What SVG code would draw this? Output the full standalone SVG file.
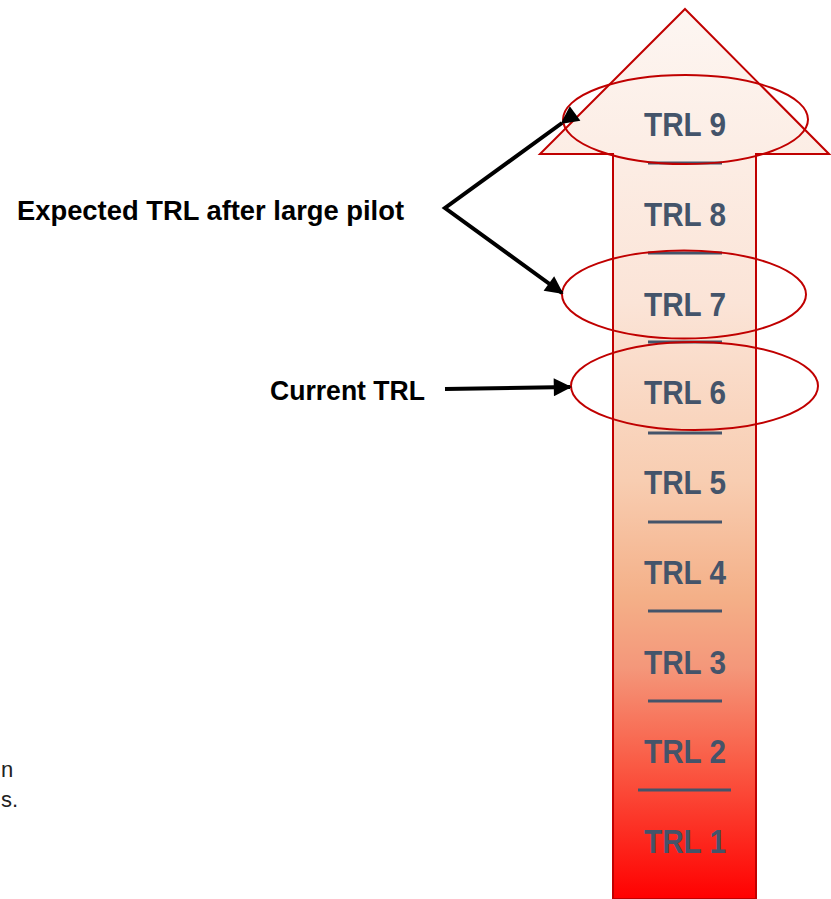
<svg xmlns="http://www.w3.org/2000/svg" width="831" height="899" viewBox="0 0 831 899">
<defs>
<linearGradient id="g" x1="0" y1="9" x2="0" y2="899" gradientUnits="userSpaceOnUse">
<stop offset="0" stop-color="#fdf6f2"/>
<stop offset="0.33" stop-color="#fbe4d7"/>
<stop offset="0.53" stop-color="#f8cdb1"/>
<stop offset="0.66" stop-color="#f4b088"/>
<stop offset="0.74" stop-color="#f4977a"/>
<stop offset="0.85" stop-color="#fa5a44"/>
<stop offset="1" stop-color="#ff0000"/>
</linearGradient>
<marker id="ah" viewBox="0 0 10 10" refX="9" refY="5" markerWidth="5" markerHeight="4.5" markerUnits="strokeWidth" orient="auto">
<path d="M0,0 L10,5 L0,10 z" fill="#000"/>
</marker>
<style>
.trl{font-family:"Liberation Sans",Arial,sans-serif;font-weight:bold;font-size:34px;fill:#44546a;text-anchor:middle}
.lbl{font-family:"Liberation Sans",Arial,sans-serif;font-weight:bold;font-size:27px;fill:#000}
.frag{font-family:"Liberation Sans",Arial,sans-serif;font-size:22px;fill:#222}
.sep{stroke:#44546a;stroke-width:3}
.ell{fill:none;stroke:#c00000;stroke-width:2}
.con{stroke:#000;stroke-width:4;fill:none}
</style>
</defs>
<g id="arrow">
<polygon points="685,9 829,154 756,154 756,899 613,899 613,154 540,154" fill="url(#g)" stroke="#c00000" stroke-width="2"/>
</g>
<g id="levels">
<g id="trl9"><text class="trl" x="685" y="136" textLength="82" lengthAdjust="spacingAndGlyphs">TRL 9</text></g>
<line class="sep" x1="648" y1="163" x2="722" y2="163"/>
<g id="trl8"><text class="trl" x="685" y="226" textLength="82" lengthAdjust="spacingAndGlyphs">TRL 8</text></g>
<line class="sep" x1="648" y1="253" x2="722" y2="253"/>
<g id="trl7"><text class="trl" x="685" y="316" textLength="82" lengthAdjust="spacingAndGlyphs">TRL 7</text></g>
<line class="sep" x1="648" y1="342" x2="722" y2="342"/>
<g id="trl6"><text class="trl" x="685" y="404" textLength="82" lengthAdjust="spacingAndGlyphs">TRL 6</text></g>
<line class="sep" x1="648" y1="433" x2="722" y2="433"/>
<g id="trl5"><text class="trl" x="685" y="494" textLength="82" lengthAdjust="spacingAndGlyphs">TRL 5</text></g>
<line class="sep" x1="648" y1="522" x2="722" y2="522"/>
<g id="trl4"><text class="trl" x="685" y="584" textLength="82" lengthAdjust="spacingAndGlyphs">TRL 4</text></g>
<line class="sep" x1="648" y1="611" x2="722" y2="611"/>
<g id="trl3"><text class="trl" x="685" y="674" textLength="82" lengthAdjust="spacingAndGlyphs">TRL 3</text></g>
<line class="sep" x1="648" y1="701" x2="722" y2="701"/>
<g id="trl2"><text class="trl" x="685" y="763" textLength="82" lengthAdjust="spacingAndGlyphs">TRL 2</text></g>
<line class="sep" x1="638" y1="790" x2="731" y2="790"/>
<g id="trl1"><text class="trl" x="685" y="853" textLength="82" lengthAdjust="spacingAndGlyphs">TRL 1</text></g>
</g>
<g id="highlights">
<ellipse class="ell" cx="685.5" cy="119.5" rx="122.5" ry="44.5"/>
<ellipse class="ell" cx="684" cy="294.5" rx="122" ry="44"/>
<ellipse class="ell" cx="694.5" cy="386" rx="123.5" ry="44"/>
</g>
<g id="label-expected"><text class="lbl" x="17" y="220" textLength="387" lengthAdjust="spacingAndGlyphs">Expected TRL after large pilot</text></g>
<g id="label-current"><text class="lbl" x="270" y="400" textLength="155" lengthAdjust="spacingAndGlyphs">Current TRL</text></g>
<g id="connectors">
<polyline class="con" points="562,123 445,208 562,293" marker-start="url(#ah)" marker-end="url(#ah)"/>
<line class="con" x1="445" y1="389" x2="570" y2="387" marker-end="url(#ah)"/>
</g>
<g id="fragments">
<text class="frag" x="1" y="777">n</text>
<text class="frag" x="1" y="807">s.</text>
</g>
</svg>
